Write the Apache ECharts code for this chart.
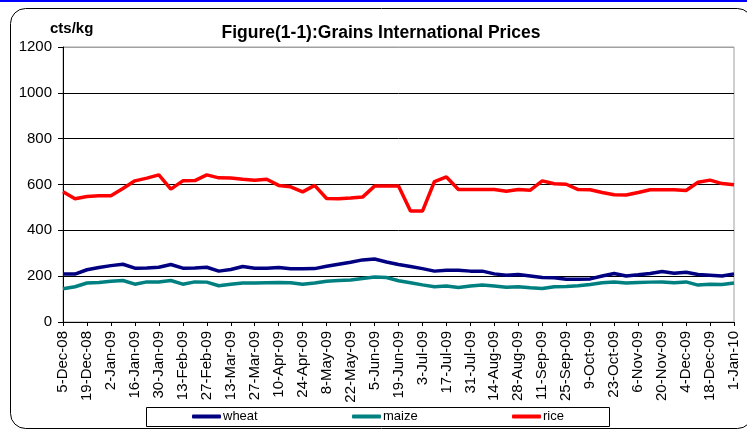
<!DOCTYPE html>
<html><head><meta charset="utf-8">
<script src="https://cdn.jsdelivr.net/npm/echarts@6/dist/echarts.min.js"></script>
<style>html,body{margin:0;padding:0;background:#fff}#c{width:747px;height:430px}</style>
</head><body><div id="c"></div>
<script>
var categories = ['5-Dec-08','12-Dec-08','19-Dec-08','26-Dec-08','2-Jan-09','9-Jan-09','16-Jan-09','23-Jan-09','30-Jan-09','6-Feb-09','13-Feb-09','20-Feb-09','27-Feb-09','6-Mar-09','13-Mar-09','20-Mar-09','27-Mar-09','3-Apr-09','10-Apr-09','17-Apr-09','24-Apr-09','1-May-09','8-May-09','15-May-09','22-May-09','29-May-09','5-Jun-09','12-Jun-09','19-Jun-09','26-Jun-09','3-Jul-09','10-Jul-09','17-Jul-09','24-Jul-09','31-Jul-09','7-Aug-09','14-Aug-09','21-Aug-09','28-Aug-09','4-Sep-09','11-Sep-09','18-Sep-09','25-Sep-09','2-Oct-09','9-Oct-09','16-Oct-09','23-Oct-09','30-Oct-09','6-Nov-09','13-Nov-09','20-Nov-09','27-Nov-09','4-Dec-09','11-Dec-09','18-Dec-09','25-Dec-09','1-Jan-10'];
var wheat = [209,209,228,238,246,252,235,236,239,251,235,236,239,222,229,242,235,235,238,232,232,233,243,252,261,271,275,262,251,242,233,222,226,226,222,222,210,204,207,201,194,193,187,187,188,201,212,201,206,212,220,213,217,207,204,201,210];
var maize = [145,154,170,172,178,181,165,175,175,181,165,175,174,158,165,170,170,171,172,171,165,170,178,181,183,190,196,194,180,171,162,154,157,151,157,161,157,152,154,149,146,154,155,158,164,171,175,170,172,174,175,171,175,161,165,164,170];
var rice = [568,538,548,551,551,583,616,628,642,580,616,617,642,629,628,623,619,623,596,590,568,596,539,538,541,545,593,593,593,484,484,613,633,578,578,578,578,571,578,575,616,603,601,578,577,565,555,554,565,577,577,577,574,610,619,604,599];
var yTicks = [0,200,400,600,800,1000,1200];
var titleText = 'Figure(1-1):Grains International Prices';
var unitText = 'cts/kg';

var FF = 'Liberation Sans, Arial, sans-serif';
var chart = echarts.init(document.getElementById('c'), null, {renderer:'canvas'});
var names = ['wheat','maize','rice'];
var colors = ['#000080','#008080','#ff0000'];
var datas = [wheat, maize, rice];
var legendLeft = [192, 352, 512];
chart.setOption({
  animation:false,
  backgroundColor:'#fff',
  graphic:[
    {type:'rect', z:-10, shape:{x:0,y:0,width:747,height:2}, style:{fill:'#0000ff'}},
    {type:'rect', z:-10, shape:{x:10.5,y:8.5,width:742,height:420,r:15}, style:{fill:'#fff',stroke:'#000',lineWidth:1}},
    {type:'rect', z:-5, shape:{x:146.5,y:407.5,width:463,height:19}, style:{fill:'#fff',stroke:'#000',lineWidth:1}},
    {type:'text', left:50, top:21, style:{text:unitText, font:'bold 15px '+FF, fill:'#000'}}
  ],
  title:{text:titleText, left:376, textAlign:'center', top:19,
    textStyle:{fontFamily:FF, fontWeight:'bold', fontSize:17.5, color:'#000'}},
  legend: names.map(function(n,i){return {
    data:[n], left:legendLeft[i], top:410, icon:'roundRect', itemWidth:29, itemHeight:4, itemGap:0,
    textStyle:{fontFamily:FF, fontSize:13, color:'#000', padding:[0,0,0,-3]},
    selectedMode:false, padding:0
  };}),
  grid:{left:63, right:13, top:47, bottom:108, show:true, borderColor:'#a0a0a0', borderWidth:1, backgroundColor:'transparent'},
  xAxis:{type:'category', data:categories, boundaryGap:false,
    axisLine:{lineStyle:{color:'#000', width:1}},
    axisTick:{interval:1, length:4, lineStyle:{color:'#000'}},
    axisLabel:{interval:1, rotate:90, margin:9, fontFamily:FF, fontSize:15, color:'#000'},
    splitLine:{show:false}},
  yAxis:{type:'value', min:yTicks[0], max:yTicks[yTicks.length-1], interval:200,
    axisLine:{show:true, lineStyle:{color:'#000', width:1}},
    axisTick:{show:true, length:5, lineStyle:{color:'#000'}},
    axisLabel:{fontFamily:FF, fontSize:15, color:'#000', margin:11, formatter:function(v){return String(v);}},
    splitLine:{show:true, lineStyle:{color:['#000','#000','#000','#000','#000','#000','#a0a0a0'], width:1}}},
  series: names.map(function(n,i){return {
    name:n, type:'line', data:datas[i], symbol:'none', smooth:false,
    lineStyle:{color:colors[i], width:3.5}, itemStyle:{color:colors[i]}
  };})
});
</script></body></html>
